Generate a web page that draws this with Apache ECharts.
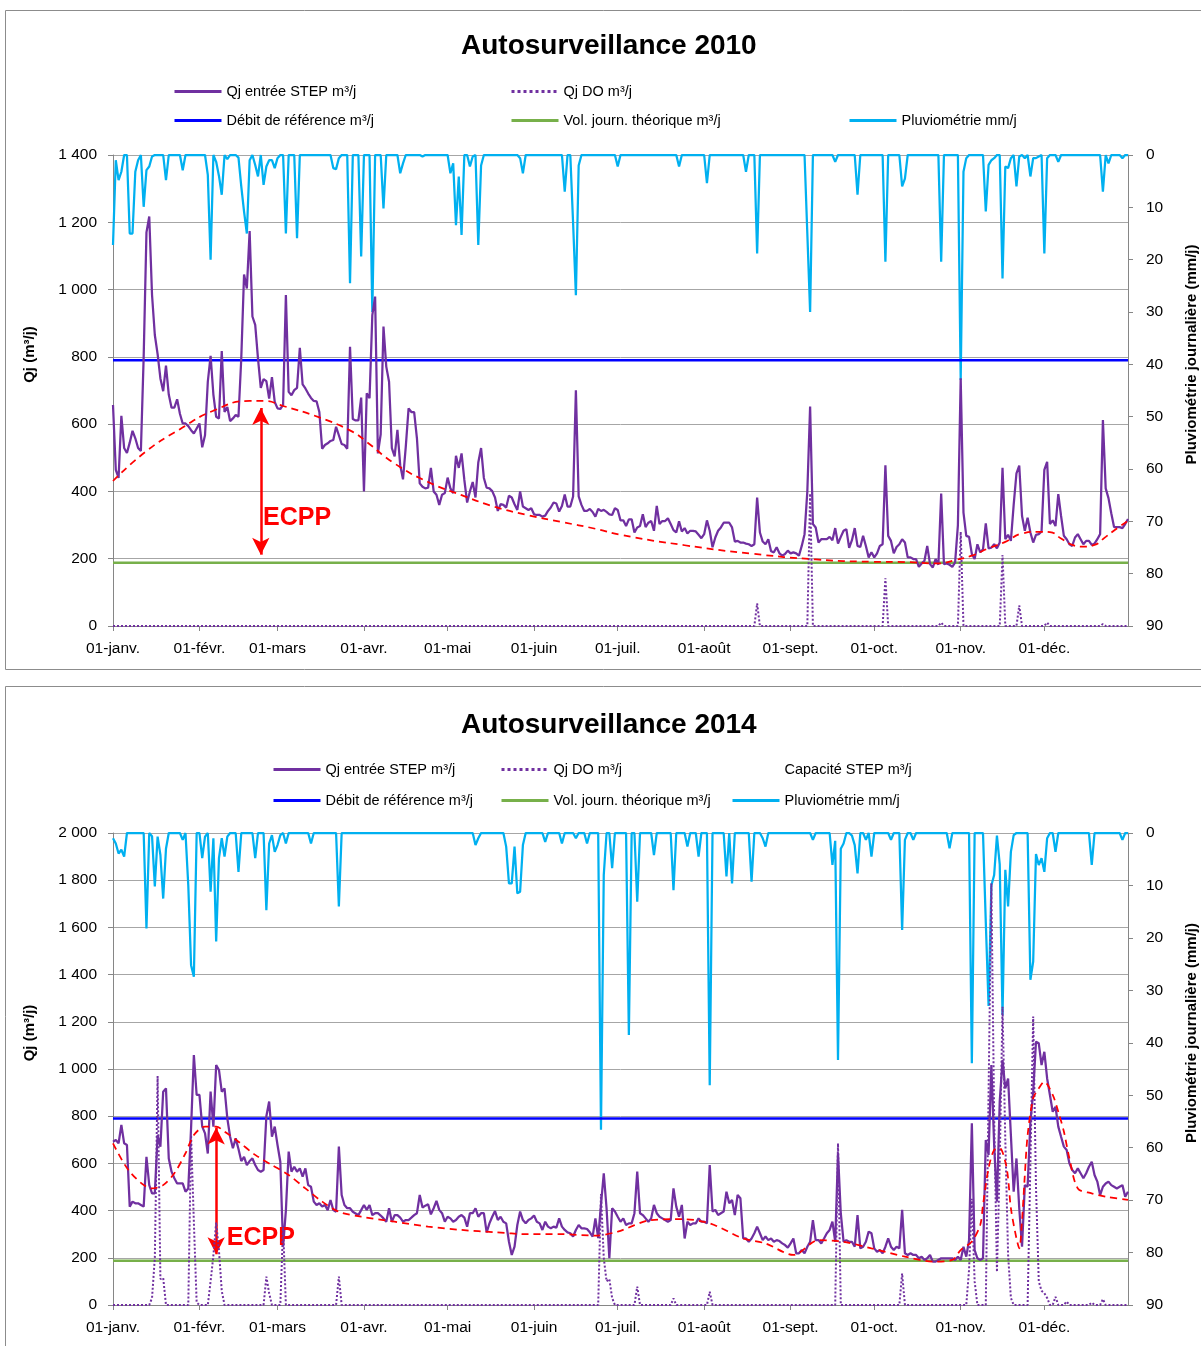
<!DOCTYPE html>
<html><head><meta charset="utf-8">
<script src="https://cdn.jsdelivr.net/npm/echarts@6/dist/echarts.min.js"></script>
<style>
html,body{margin:0;padding:0;background:#fff;width:1201px;height:1346px;overflow:hidden}
#c1{position:absolute;left:0;top:0;width:1201px;height:678px}
#c2{position:absolute;left:0;top:678px;width:1201px;height:668px}
</style>
</head><body><div id="c1"></div><div id="c2"></div>
<script>
// ---------- DATA ----------
const MONTHS = ['janv.','févr.','mars','avr.','mai','juin','juil.','août','sept.','oct.','nov.','déc.'];
const Y_TICKS_2010 = {min:0, max:1400, step:200};
const Y_TICKS_2014 = {min:0, max:2000, step:200};
const RAIN_TICKS = {min:0, max:90, step:10};

const DEBIT_REF = 790;   // Débit de référence m³/j
const VOL_THEO = 188;    // Vol. journ. théorique m³/j

// Qj entrée STEP 2010 (daily)
const QJ_2010 = [
657,464,440,625,529,514,545,580,558,529,
520,800,1170,1217,984,865,808,736,698,774,
688,649,649,674,631,602,602,594,582,572,
587,602,531,567,726,803,688,622,617,817,
636,651,609,617,627,622,795,1045,1003,1174,
920,895,795,708,734,728,676,740,666,647,
645,657,984,696,686,701,708,827,718,706,
691,678,669,668,636,527,538,543,550,553,
592,567,541,538,527,830,615,611,611,679,
400,692,677,924,979,513,570,890,771,726,
529,504,583,478,436,533,647,636,636,558,
424,414,409,411,470,400,390,360,390,395,
441,409,395,506,470,513,434,367,400,428,
382,486,529,440,411,409,401,382,342,362,
360,352,387,382,362,345,400,355,350,345,
350,332,330,330,325,328,342,352,367,364,
340,357,391,355,355,385,701,385,360,342,
342,348,339,325,348,342,345,339,332,330,
350,345,314,314,297,317,317,278,293,297,
332,294,307,312,283,357,303,312,312,320,
303,285,278,311,281,291,275,283,283,281,
271,261,273,314,283,234,263,283,293,307,
307,307,293,251,253,248,248,245,243,238,
243,382,278,251,243,258,222,219,234,216,
209,214,224,216,219,216,209,238,273,400,
652,303,293,248,258,258,258,265,255,291,
245,265,283,288,232,255,291,238,235,268,
238,204,219,204,216,238,243,478,268,253,
216,235,243,258,248,204,204,199,199,176,
186,194,238,184,174,199,182,394,184,186,
182,176,189,300,736,337,268,265,214,199,
243,219,228,305,231,233,243,231,248,470,
258,271,253,360,454,477,327,283,322,278,
248,271,273,281,464,488,303,314,297,392,
327,268,258,243,238,263,273,258,243,253,
253,241,245,258,273,612,409,380,335,294,
294,294,291,303,318
];

// Qj entrée STEP 2014 (daily)
const QJ_2014 = [
692,699,685,763,685,678,417,438,431,431,
424,417,628,508,473,473,720,671,904,918,
621,565,537,515,515,515,480,494,750,1059,
890,890,756,727,642,904,756,1017,996,904,
918,791,713,664,706,661,610,628,593,610,
621,593,572,565,572,800,862,713,756,678,
607,247,400,650,565,586,565,579,544,579,
508,501,438,424,431,417,424,402,445,402,
395,671,466,424,410,410,395,388,381,402,
424,403,424,381,389,389,379,367,353,410,
353,381,381,370,353,360,360,370,381,389,
466,413,421,427,384,410,441,403,389,353,
374,367,353,360,374,381,370,332,389,389,
410,374,389,389,308,346,374,398,360,374,
353,346,268,212,247,339,396,360,346,360,
367,379,353,346,318,353,332,325,332,328,
367,332,318,308,304,290,318,339,325,325,
322,308,290,367,283,424,558,410,198,410,
396,374,353,367,339,346,346,389,565,389,
381,367,353,367,424,389,374,367,360,353,
360,494,417,374,424,282,353,339,346,346,
367,353,353,346,593,396,403,381,389,396,
480,431,445,381,466,452,282,282,268,282,
304,332,304,275,290,275,282,268,275,271,
261,254,243,261,282,219,219,233,219,247,
268,360,275,275,261,282,304,318,353,268,
643,389,268,275,268,268,247,381,240,247,
268,311,304,240,226,233,219,247,282,247,
233,247,240,403,219,212,219,212,212,198,
205,191,198,212,184,184,191,198,198,198,
198,198,191,205,191,247,205,275,770,233,
198,191,198,699,636,1017,678,438,862,1038,
918,960,720,480,621,410,247,508,501,777,
900,1116,1109,1017,1073,960,890,819,840,756,
713,671,657,600,572,558,579,558,537,558,
586,607,551,523,466,501,515,523,508,501,
494,501,508,459,480
];

// Pluviométrie mm/j : [jour, mm] (jours sans pluie = 0)
const RAIN_2010 = [[0,17.2],[1,1],[2,4.8],[3,3.2],[6,15],[7,15],[8,3.2],[9,1],[11,9.9],[12,2.9],[13,2.2],[14,0.3],[19,4.8],[25,2.9],[34,3.8],[35,20],[37,1.3],[38,4],[39,7.6],[41,0.8],[45,0.5],[46,6],[47,10.8],[48,15],[49,1],[51,1.9],[52,4.1],[54,5.7],[55,2.2],[56,1],[57,1],[58,2.5],[59,0.6],[62,15],[66,15.9],[79,2.5],[80,2.7],[81,0.6],[85,24.5],[89,19.4],[93,30],[97,10.2],[103,3.5],[104,1.6],[111,0.3],[121,3.5],[122,1.6],[123,13.4],[124,4.1],[125,15.3],[128,2.2],[129,0.3],[131,17.2],[132,2],[146,0.6],[147,3.5],[162,7],[165,13],[166,26.8],[167,2],[181,2.2],[203,2.2],[213,5.4],[227,3.2],[231,18.8],[249,15],[250,30],[259,1.3],[267,7.6],[277,20.4],[283,6],[284,4.5],[297,20.4],[304,43],[305,3.2],[306,0.6],[313,10.8],[314,1.9],[315,1],[316,0.6],[319,23.6],[320,2.2],[321,2.5],[322,0.6],[324,6],[325,0.3],[327,0.6],[329,4.1],[330,0.6],[331,0.6],[332,0.3],[334,18.8],[335,0.6],[339,1.3],[355,7],[357,1.6],[362,0.6]];
const RAIN_2014 = [[0,1],[1,2],[2,3.9],[3,3.2],[4,4.5],[12,18.2],[14,0.6],[15,10.2],[16,0.7],[17,4.2],[18,12.5],[19,3],[25,1.3],[27,10],[28,25.2],[29,27.4],[32,4.8],[33,0.7],[35,11.2],[36,1],[37,20.7],[38,4.8],[39,1],[40,4.5],[41,0.7],[45,7.4],[51,4.8],[55,14.7],[56,2],[57,0.4],[58,3.6],[59,2.3],[60,0.4],[62,2],[71,2],[81,14],[130,2.3],[131,1],[141,2.6],[142,9.6],[143,9.6],[144,2.6],[145,11.5],[146,11.2],[147,2.3],[155,1.7],[161,2],[166,1],[170,2],[175,56.6],[176,8],[179,6.7],[185,38.5],[188,13.1],[194,4.2],[201,10.9],[206,2.6],[210,4.5],[214,48.1],[220,8.3],[222,9.6],[229,9.3],[233,1],[234,2.6],[251,1.3],[258,6.1],[259,1.5],[260,43.3],[261,3],[262,2],[265,0.5],[266,2.3],[267,7.7],[270,1.3],[272,4.5],[279,1.3],[283,18.5],[284,1.3],[287,1.3],[300,2.9],[308,43.9],[313,17],[314,33],[315,10],[316,8],[317,0.5],[318,6],[319,34.7],[320,7],[321,14],[322,3.6],[323,0.4],[329,28],[330,24.5],[331,4],[332,6.1],[333,4.8],[334,7.4],[335,1],[338,3.6],[351,6.1],[362,1.3]];

// Qj DO m³/j : [jour, m³] (autres jours = 0)
const DO_2010 = [[231,67],[250,394],[277,142],[297,10],[304,280],[319,211],[325,61],[335,10],[355,6]];
const DO_2014 = [[14,30],[15,200],[16,970],[17,110],[18,115],[28,720],[29,350],[30,10],[35,100],[36,210],[37,350],[38,230],[39,60],[55,120],[56,50],[61,330],[81,120],[175,470],[176,200],[177,100],[178,110],[179,30],[188,78],[201,28],[214,56],[260,685],[283,134],[307,150],[308,450],[309,100],[314,900],[315,1787],[316,800],[317,140],[318,600],[319,1264],[320,700],[321,212],[322,30],[329,600],[330,1222],[331,500],[332,100],[333,60],[334,50],[335,30],[338,35],[342,15],[351,10],[355,25]];

// Courbe rouge pointillée (débit de temps sec) : [jour, m³/j]
const DRY_2010 = [[0,431],[12,520],[24,585],[36,640],[49,669],[54,669],[61,654],[74,620],[86,577],[91,547],[101,483],[113,428],[125,389],[137,354],[149,329],[161,309],[173,289],[182,271],[205,240],[229,215],[252,198],[272,191],[284,190],[296,186],[302,196],[308,209],[314,231],[320,250],[326,275],[332,280],[336,279],[340,260],[344,241],[348,236],[352,241],[356,265],[360,290],[364,313]];
const DRY_2014 = [[0,685],[6,565],[14,494],[18,508],[22,558],[26,643],[29,720],[33,756],[37,756],[40,735],[45,692],[51,636],[57,593],[63,551],[69,494],[75,438],[81,395],[89,374],[101,353],[113,332],[125,318],[137,308],[149,300],[161,300],[173,294],[181,311],[193,360],[204,364],[214,346],[226,282],[234,261],[244,212],[253,275],[262,268],[272,240],[284,205],[294,184],[301,191],[304,233],[308,269],[311,339],[312,424],[314,579],[316,657],[318,664],[320,607],[321,537],[322,410],[324,282],[325,240],[326,360],[327,551],[328,720],[330,876],[332,918],[334,946],[337,890],[339,819],[341,735],[343,621],[346,494],[351,473],[356,459],[364,445]];

// Annotation ECPP : flèche [jour, bas, haut], texte [jour, valeur]
const ECPP_2010 = {arrow:[53,212,648], text:[66,321]};
const ECPP_2014 = {arrow:[37,215,752], text:[53,284]};

// ---------- BUILD ----------
const FONT = "'Liberation Sans', Arial, sans-serif";
function dayLabels(year){
  const out=[];
  for(let i=0;i<365;i++){
    const d=new Date(Date.UTC(year,0,1+i));
    const dd=String(d.getUTCDate()).padStart(2,'0');
    out.push(dd+'-'+MONTHS[d.getUTCMonth()]);
  }
  return out;
}
function fillDays(pairs){
  const a=new Array(365).fill(0);
  pairs.forEach(p=>{a[p[0]]=p[1];});
  return a;
}
function isMonthStart(i,v){return typeof v==='string' && v.indexOf('01-')===0;}
function fmtThousands(v){
  const s=String(v);
  return s.length>3 ? s.slice(0,s.length-3)+' '+s.slice(-3) : s;
}
function build(c){
  const days=dayLabels(c.year);
  const last=days.length-1;
  const legBase={padding:0,itemWidth:47,itemHeight:14,itemGap:0,selectedMode:false,
    itemStyle:{opacity:0},lineStyle:{width:3},
    textStyle:{fontSize:14.5,color:'#000',fontFamily:FONT}};
  const legends=c.legends.map(l=>Object.assign({},legBase,{left:l[1],top:l[2]-7,data:[l[0]]}));
  const series=[
    {name:'Pluviométrie mm/j',type:'line',yAxisIndex:1,data:fillDays(c.rain),symbol:'none',
      lineStyle:{color:'#00B0F0',width:2.25},itemStyle:{color:'#00B0F0'},z:2},
    {name:'Débit de référence m³/j',type:'line',data:[[0,DEBIT_REF],[last,DEBIT_REF]],symbol:'none',
      lineStyle:{color:'#0000FF',width:2.5},itemStyle:{color:'#0000FF'},z:3},
    {name:'Vol. journ. théorique m³/j',type:'line',data:[[0,VOL_THEO],[last,VOL_THEO]],symbol:'none',
      lineStyle:{color:'#77B04A',width:2.5},itemStyle:{color:'#77B04A'},z:3},
    {name:'Qj entrée STEP m³/j',type:'line',data:c.qj,symbol:'none',
      lineStyle:{color:'#7030A0',width:2.25},itemStyle:{color:'#7030A0'},z:4},
    {name:'Qj DO m³/j',type:'line',data:fillDays(c.dov),symbol:'none',
      lineStyle:{color:'#7030A0',width:2,type:'dotted'},itemStyle:{color:'#7030A0'},z:5},
    {name:'Temps sec',type:'line',data:c.dry,symbol:'none',smooth:c.smooth,
      lineStyle:{color:'#FF0000',width:1.75,type:[7,5]},itemStyle:{color:'#FF0000'},z:6,
      markLine:{silent:true,symbol:['arrow','arrow'],symbolSize:[13,17],
        lineStyle:{color:'#FF0000',width:2.5,type:'solid'},label:{show:false},
        data:[[{coord:[days[c.ecpp.arrow[0]],c.ecpp.arrow[1]]},{coord:[days[c.ecpp.arrow[0]],c.ecpp.arrow[2]]}]]},
      markPoint:{silent:true,data:[{coord:[days[c.ecpp.text[0]],c.ecpp.text[1]],symbol:'rect',symbolSize:1,
        itemStyle:{color:'rgba(0,0,0,0)'},
        label:{show:true,position:'inside',formatter:'ECPP',fontSize:25,fontWeight:'bold',color:'#FF0000',fontFamily:FONT}}]}}
  ];
  if(c.capacity){
    series.push({name:'Capacité STEP m³/j',type:'line',data:[],symbol:'none',
      lineStyle:{color:'rgba(255,255,255,0)',width:2},itemStyle:{color:'rgba(255,255,255,0)'}});
  }
  return {
    animation:false,
    textStyle:{fontFamily:FONT},
    title:{text:c.title,left:456,top:c.titleTop,textStyle:{fontSize:28,fontWeight:'bold',color:'#000',fontFamily:FONT}},
    graphic:[{type:'rect',silent:true,shape:{x:5.5,y:c.frameTop+0.5,width:1240,height:c.frameH},
      style:{fill:'none',stroke:'#8c8c8c',lineWidth:1}}],
    legend:legends,
    grid:{left:113,width:1015,top:155,height:c.gridH,outerBoundsMode:'none',containLabel:false},
    xAxis:{type:'category',data:days,boundaryGap:false,
      axisLine:{lineStyle:{color:'#868686',width:1}},
      axisTick:{show:true,interval:isMonthStart,length:5,lineStyle:{color:'#868686'}},
      axisLabel:{interval:isMonthStart,fontSize:15.5,color:'#000',margin:15},
      splitLine:{show:false}},
    yAxis:[
      {type:'value',min:c.yTicks.min,max:c.yTicks.max,interval:c.yTicks.step,
        name:'Qj (m³/j)',nameLocation:'middle',nameGap:76,nameRotate:90,
        nameTextStyle:{fontSize:15,fontWeight:'bold',color:'#000',padding:[0,0,0,72]},
        axisLine:{show:true,lineStyle:{color:'#868686'}},
        axisTick:{show:true,length:5,lineStyle:{color:'#868686'}},
        axisLabel:{fontSize:15.5,color:'#000',margin:16,formatter:fmtThousands},
        splitLine:{show:true,lineStyle:{color:'#a6a6a6',width:1}}},
      {type:'value',min:RAIN_TICKS.min,max:RAIN_TICKS.max,interval:RAIN_TICKS.step,inverse:true,
        name:'Pluviométrie journalière (mm/j)',nameLocation:'middle',nameGap:56,nameRotate:90,
        nameTextStyle:{fontSize:15,fontWeight:'bold',color:'#000',padding:[0,0,0,72]},
        axisLine:{show:true,lineStyle:{color:'#868686'}},
        axisTick:{show:true,length:5,lineStyle:{color:'#868686'}},
        axisLabel:{fontSize:15.5,color:'#000',margin:18},
        splitLine:{show:false}}
    ],
    series:series
  };
}

const opt1=build({year:2010,title:'Autosurveillance 2010',titleTop:27,frameTop:10,frameH:659,gridH:471,
  yTicks:Y_TICKS_2010,qj:QJ_2010,rain:RAIN_2010,dov:DO_2010,dry:DRY_2010,smooth:true,ecpp:ECPP_2010,capacity:false,
  legends:[['Qj entrée STEP m³/j',173,91],['Qj DO m³/j',510,91],['Débit de référence m³/j',173,120],
           ['Vol. journ. théorique m³/j',510,120],['Pluviométrie mm/j',848,120]]});
const opt2=build({year:2014,title:'Autosurveillance 2014',titleTop:28,frameTop:8,frameH:700,gridH:472,
  yTicks:Y_TICKS_2014,qj:QJ_2014,rain:RAIN_2014,dov:DO_2014,dry:DRY_2014,smooth:0.3,ecpp:ECPP_2014,capacity:true,
  legends:[['Qj entrée STEP m³/j',272,91],['Qj DO m³/j',500,91],['Capacité STEP m³/j',731,91],
           ['Débit de référence m³/j',272,122],['Vol. journ. théorique m³/j',500,122],['Pluviométrie mm/j',731,122]]});

echarts.init(document.getElementById('c1'),null,{renderer:'canvas'}).setOption(opt1);
echarts.init(document.getElementById('c2'),null,{renderer:'canvas'}).setOption(opt2);
</script>
</body></html>
